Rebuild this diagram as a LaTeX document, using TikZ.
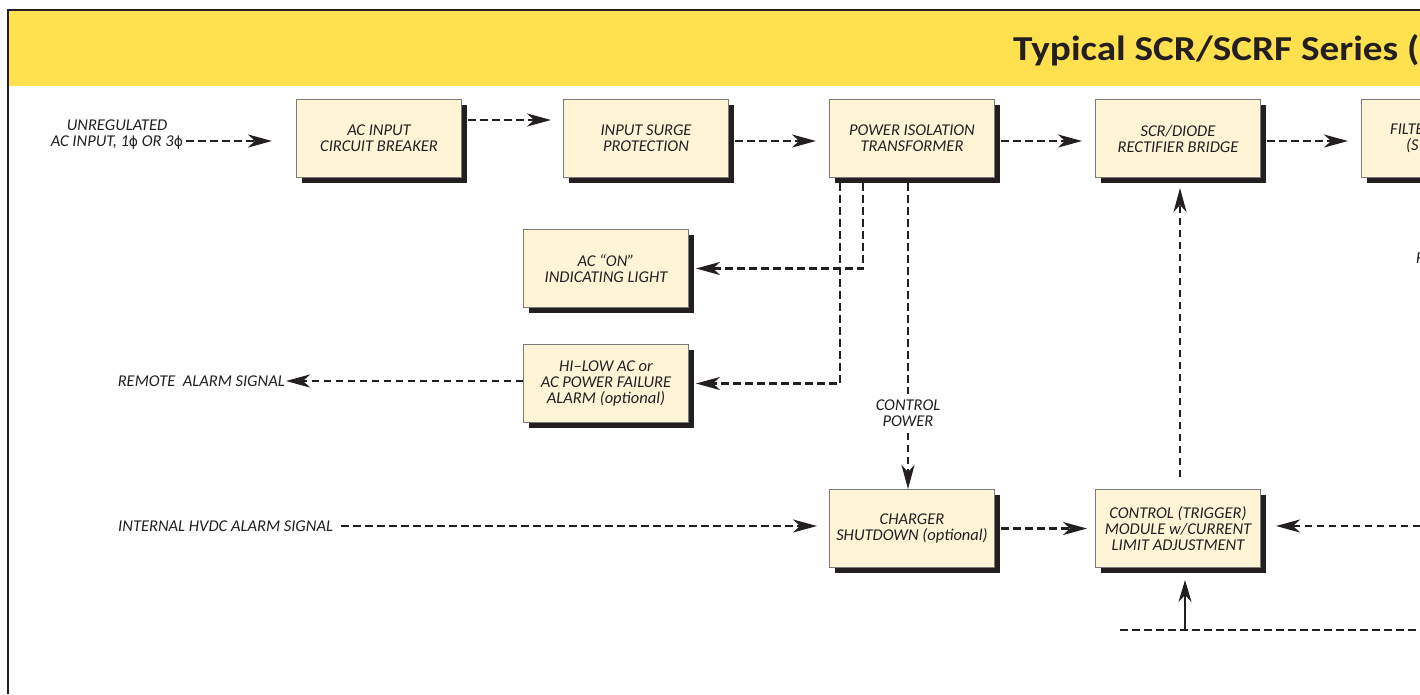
\documentclass[tikz,border=0pt]{standalone}
\usepackage{fontspec}
\setmainfont{Carlito}
\newfontfamily\symfont{DejaVu Sans}
\usetikzlibrary{arrows.meta,shadows,calc}
\definecolor{band}{HTML}{FFE04F}
\definecolor{cream}{HTML}{FFF4D6}
\definecolor{ink}{HTML}{231F20}
\definecolor{edge}{HTML}{7A7A7A}
\newcommand{\phasesym}{{\symfont\upshape\fontsize{14}{16}\selectfont ϕ}}
\begin{document}
\begin{tikzpicture}[x=1pt,y=-1pt,
  txt/.style={font=\fontsize{16.5}{16}\selectfont\itshape, text=ink},
  box/.style={txt, draw=edge, line width=1pt, fill=cream, minimum width=165pt, minimum height=78pt,
    anchor=north west, inner sep=0pt, align=center,
    drop shadow={shadow xshift=5pt, shadow yshift=-5pt, fill=ink, opacity=1}},
  lbl/.style={txt, inner sep=0pt, align=center},
  dline/.style={draw=ink, line width=2.2pt, dash pattern=on 7.5pt off 4.5pt},
  conn/.style={dline, -{Stealth[length=24pt,width=13pt,inset=7pt]}},
  sarrow/.style={draw=ink, line width=2.2pt, -{Stealth[length=22pt,width=13pt,inset=7pt]}},
]
\useasboundingbox (0,0) rectangle (1420,694);
\clip (0,0) rectangle (1420,694);
\fill[white] (0,0) rectangle (1420,694);
% header band and frame
\fill[band] (9,11) rectangle (1420,86);
\draw[ink, line width=2.5pt] (8,694) -- (8,10) -- (1420,10);
\node[anchor=base west, inner sep=0pt, text=ink, font=\fontsize{35}{40}\selectfont\bfseries] (title) at (1013,60) {\scalebox{1.12}[1]{Typical SCR/SCRF Series (}};

% helper coordinates
\coordinate (ya) at (0,120);
\coordinate (yb) at (0,141);
\coordinate (xa) at (840,0);
\coordinate (xb) at (863,0);
\coordinate (xc) at (908,0);
\coordinate (xd) at (1180,0);

% boxes
\node[box] (b1) at (296,99) {AC INPUT\\CIRCUIT BREAKER};
\node[box] (b2) at (563,99) {INPUT SURGE\\PROTECTION};
\node[box] (xf) at (829,99) {POWER ISOLATION\\TRANSFORMER};
\node[box] (scr) at (1095,99) {SCR/DIODE\\RECTIFIER BRIDGE};
\node[box] (filt) at (1361,99) {};
\node[lbl, anchor=base west] (f1) at (1390,134) {FILTER};
\node[lbl, anchor=base west] (f2) at (1406,150) {(S};
\node[box] (on) at (523,229) {AC “ON”\\INDICATING LIGHT};
\node[box] (hl) at (523,344) {HI–LOW AC or\\AC POWER FAILURE\\ALARM (optional)};
\node[box] (cs) at (829,489) {CHARGER\\SHUTDOWN (optional)};
\node[box] (ctl) at (1095,489) {CONTROL (TRIGGER)\\MODULE w/CURRENT\\LIMIT ADJUSTMENT};

% free labels
\node[lbl] (unreg) at (117,135) {UNREGULATED\\AC INPUT, 1\phasesym{} OR 3\phasesym};
\node[lbl, anchor=east] (rem) at (285,381) {REMOTE\ \ ALARM SIGNAL};
\node[lbl, anchor=west] (int) at (118,526) {INTERNAL HVDC ALARM SIGNAL};
\node[lbl] (cp) at (908,413) {CONTROL\\POWER};
\node[lbl, anchor=west] (fr) at (1416,258) {F};

% edge coordinates
\coordinate (rin) at (1420,526);
\coordinate (bl) at (1120,630);
\coordinate (br) at (1420,630);
\coordinate (bj) at (1185,630);

% main chain
\draw[conn, shorten <=3pt, shorten >=24pt] (unreg.east |- yb) -- (b1.west |- yb);
\draw[conn, shorten <=6pt, shorten >=12pt] (b1.east |- ya) -- (b2.west |- ya);
\draw[conn, shorten <=6pt, shorten >=13pt] (b2.east |- yb) -- (xf.west |- yb);
\draw[conn, shorten <=6pt, shorten >=13pt] (xf.east |- yb) -- (scr.west |- yb);
\draw[conn, shorten <=6pt, shorten >=13pt] (scr.east |- yb) -- (filt.west |- yb);

% transformer taps
\draw[conn, shorten <=5pt, shorten >=7pt] (xf.south -| xb) |- (on.east);
\draw[conn, shorten <=5pt, shorten >=7pt] (xf.south -| xa) |- (hl.east);
\draw[dline, shorten <=5pt, shorten >=5pt] (xf.south -| xc) -- (cp.north);
\draw[conn, shorten <=6pt] (cp.south) -- (cs.north -| xc);

% alarms
\draw[conn, shorten >=1pt] (hl.west |- rem.east) -- (rem.east);
\draw[conn, shorten <=8pt, shorten >=12pt] (int.east) -- (cs.west |- int.east);

% control
\draw[conn, shorten <=6pt, shorten >=8pt] (cs.east) -- (ctl.west);
\draw[conn, shorten <=12pt, shorten >=10pt] (ctl.north -| xd) -- (scr.south -| xd);
\draw[conn, shorten >=15pt] (rin) -- (ctl.east |- rin);
\draw[dline] (bl) -- (br);
\draw[sarrow, shorten >=12pt] (bj) -- (ctl.south -| bj);
\end{tikzpicture}
\end{document}
